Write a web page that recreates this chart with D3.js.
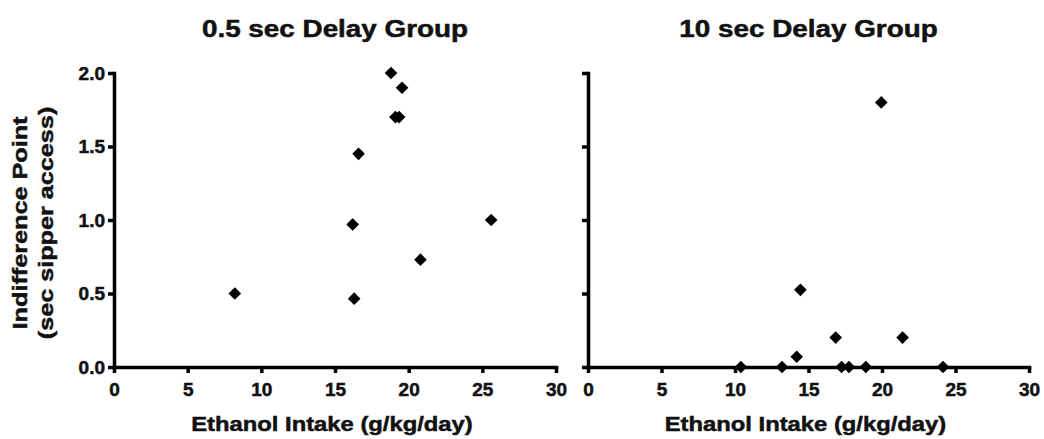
<!DOCTYPE html>
<html>
<head>
<meta charset="utf-8">
<script src="https://cdn.jsdelivr.net/npm/d3@7"></script>
<style>
  html, body { margin: 0; padding: 0; background: #fff; }
  svg { display: block; }
  text { font-family: "Liberation Sans", Arial, Helvetica, sans-serif; font-weight: bold; fill: #111; stroke: #111; stroke-width: 0.5px; }
</style>
</head>
<body>
<svg id="chart" width="1044" height="439"></svg>
<script>
// ---- data ----
const leftTitle = "0.5 sec Delay Group";
const rightTitle = "10 sec Delay Group";
const xLabel = "Ethanol Intake (g/kg/day)";
const yLabelLines = ["Indifference Point", "(sec sipper access)"];

const leftIntake = [8.2, 16.3, 16.2, 16.6, 18.8, 19.55, 19.1, 19.35, 20.8, 25.6];
const leftIndiff = [0.5, 0.465, 0.97, 1.45, 2.0, 1.9, 1.7, 1.7, 0.73, 1.0];

const rightIntake = [10.4, 13.2, 14.2, 14.45, 16.85, 17.25, 17.75, 18.9, 19.95, 21.4, 24.15];
const rightIndiff = [0, 0, 0.07, 0.525, 0.2, 0, 0, 0, 1.8, 0.2, 0];

const xTicks = [0, 5, 10, 15, 20, 25, 30];
const yTicks = [0.0, 0.5, 1.0, 1.5, 2.0];
const xDomain = [0, 30];
const yDomain = [0, 2];

// ---- layout ----
const svg = d3.select("#chart");
const plotTop = 73, plotBottom = 367;
const panels = [
  { x0: 114, x1: 556, title: leftTitle, xs: leftIntake, ys: leftIndiff, yLabels: true },
  { x0: 588, x1: 1029, title: rightTitle, xs: rightIntake, ys: rightIndiff, yLabels: false }
];

function stretch(sel, k) {
  sel.each(function() {
    const w = this.getComputedTextLength();
    d3.select(this).attr("textLength", w * k).attr("lengthAdjust", "spacingAndGlyphs");
  });
}

function styleAxis(a) {
  a.attr("font-size", 19).attr("font-family", '"Liberation Sans", Arial, sans-serif').attr("font-weight", "bold");
  a.select(".domain").attr("stroke", "#000").attr("stroke-width", 3.5).attr("stroke-linecap", "square");
  a.selectAll(".tick line").attr("stroke", "#000").attr("stroke-width", 3.5);
  a.selectAll(".tick text").attr("font-size", 19).attr("font-weight", "bold").attr("fill", "#111")
    .style("font-size", "19px");
}

panels.forEach(p => {
  const x = d3.scaleLinear().domain(xDomain).range([p.x0, p.x1]);
  const y = d3.scaleLinear().domain(yDomain).range([plotBottom, plotTop]);
  const g = svg.append("g");

  const yAxis = d3.axisLeft(y).tickValues(yTicks).tickSizeOuter(0).tickSizeInner(6).tickPadding(3)
    .tickFormat(p.yLabels ? d3.format(".1f") : () => "");
  const ya = g.append("g").attr("transform", `translate(${p.x0},0)`).call(yAxis);
  styleAxis(ya);

  const xAxis = d3.axisBottom(x).tickValues(xTicks).tickSizeOuter(0).tickSizeInner(6).tickPadding(10)
    .tickFormat(d3.format("d"));
  const xa = g.append("g").attr("transform", `translate(0,${plotBottom})`).call(xAxis);
  styleAxis(xa);

  const cx = (p.x0 + p.x1) / 2;
  const t = g.append("text").attr("x", cx).attr("y", 37).attr("text-anchor", "middle")
    .style("font-size", "23px").text(p.title);
  stretch(t, 1.21);

  const xl = g.append("text").attr("x", cx - 3).attr("y", 431).attr("text-anchor", "middle")
    .style("font-size", "20.5px").text(xLabel);
  stretch(xl, 1.16);

  const pts = p.xs.map((v, i) => [v, p.ys[i]]);
  g.append("g").selectAll("path").data(pts).join("path")
    .attr("d", d3.symbol().type(d3.symbolSquare).size(80))
    .attr("transform", d => `translate(${x(d[0])},${y(d[1])}) rotate(45)`)
    .attr("fill", "#000");
});

const yc = (plotTop + plotBottom) / 2 + 3;
const baselines = [27, 53];
yLabelLines.forEach((line, i) => {
  const t = svg.append("text")
    .attr("transform", `translate(${baselines[i]},${yc}) rotate(-90)`)
    .attr("text-anchor", "middle")
    .style("font-size", "21px").text(line);
  stretch(t, 1.2);
});
</script>
</body>
</html>
